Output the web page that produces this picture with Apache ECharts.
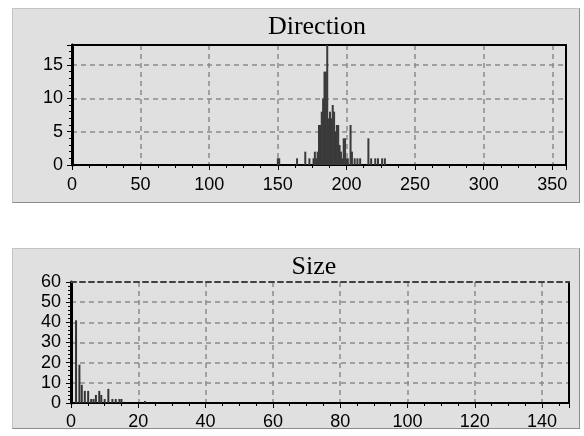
<!DOCTYPE html>
<html>
<head>
<meta charset="utf-8">
<script src="https://cdn.jsdelivr.net/npm/echarts@6/dist/echarts.min.js"></script>
<style>
html,body{margin:0;padding:0;background:#fff;}
.panel{position:absolute;left:12px;width:566px;background:#e0e0e0;border:1px solid;border-color:#c4c4c4 #8c8c8c #8c8c8c #c4c4c4;}
#p1{top:8px;height:193px;}
#p2{top:248px;height:179px;}
#main{position:absolute;left:0;top:0;width:584px;height:436px;}
</style>
</head>
<body>
<div class="panel" id="p1"></div>
<div class="panel" id="p2"></div>
<div id="main"></div>
<script>
// Direction histogram (degrees -> count)
var dirAngles=[150,151,164,170,173,176,177,178,179,180,181,182,183,184,185,186,187,188,189,190,191,192,193,194,195,196,197,198,199,200,201,203,204,206,208,210,216,218,221,223,226,228];
var dirCounts=[1,1,1,2,1,1,2,1,2,6,6,8,10,14,14,19,7,8,7,9,8,5,6,6,3,2,1,4,4,1,1,6,2,1,1,1,4,1,1,1,1,1];
// Size histogram
var sizeBins=[1.5,2.5,3.2,4.1,5.1,6,6.7,7.4,8.4,9,10,11.1,12.3,13.3,14.4,15,22];
var sizeCounts=[41,19,9,6,6,2,2,4,6,4,2,7,2,2,2,2,1];

var chart=echarts.init(document.getElementById('main'));

function pairs(xs,ys){
    var out=[];
    for(var i=0;i<xs.length;i++){
        out.push([xs[i],ys[i]]);
    }
    return out;
}

var gridLine={show:true,lineStyle:{color:'#8a8a8a',width:1.5,type:[5,4]}};

// axis with labels, ticks and dashed grid
function mainAxis(grid,pos,max,step,minorSplit,lineWidth,showMax,margin){
    return {
        type:'value',gridIndex:grid,position:pos,min:0,max:max,interval:step,
        axisLine:{show:true,onZero:false,lineStyle:{color:'#000',width:lineWidth}},
        axisTick:{show:true,length:5,lineStyle:{color:'#000',width:1}},
        minorTick:{show:true,splitNumber:minorSplit,length:3,lineStyle:{color:'#000',width:1}},
        axisLabel:{margin:margin,showMaxLabel:showMax,fontFamily:'Liberation Sans',fontSize:18,color:'#000'},
        splitLine:gridLine
    };
}
// plain border axis (top / right edge)
function edgeAxis(grid,pos,color,type){
    return {
        type:'value',gridIndex:grid,position:pos,min:0,max:1,
        axisLine:{show:true,onZero:false,lineStyle:{color:color,width:2,type:type}},
        axisTick:{show:false},axisLabel:{show:false},splitLine:{show:false}
    };
}

var option={
    animation:false,
    grid:[
        {left:72,top:45,width:494,height:120},
        {left:71,top:282,width:498,height:121}
    ],
    xAxis:[
        mainAxis(0,'bottom',360,50,4,2,false,11),
        edgeAxis(0,'top','#000','solid'),
        mainAxis(1,'bottom',148,20,4,2,false,10),
        edgeAxis(1,'top','#404040',[5,4])
    ],
    yAxis:[
        mainAxis(0,'left',18,5,5,3,false,9),
        edgeAxis(0,'right','#000','solid'),
        mainAxis(1,'left',60,10,5,3,true,10),
        edgeAxis(1,'right','#000','solid')
    ],
    graphic:[
        {type:'text',x:317,y:27,style:{text:'Direction',fontFamily:'Liberation Serif',fontSize:26,fill:'#000',align:'center',verticalAlign:'middle',textAlign:'center',textVerticalAlign:'middle'}},
        {type:'text',x:314,y:267,style:{text:'Size',fontFamily:'Liberation Serif',fontSize:26,fill:'#000',align:'center',verticalAlign:'middle',textAlign:'center',textVerticalAlign:'middle'}}
    ],
    series:[
        {
            type:'bar',xAxisIndex:0,yAxisIndex:0,
            data:pairs(dirAngles,dirCounts),
            barWidth:2,
            itemStyle:{color:'#3a3a3a'}
        },
        {
            type:'bar',xAxisIndex:2,yAxisIndex:2,
            data:pairs(sizeBins,sizeCounts),
            barWidth:2,
            itemStyle:{color:'#333'}
        }
    ]
};
chart.setOption(option);
</script>
</body>
</html>
